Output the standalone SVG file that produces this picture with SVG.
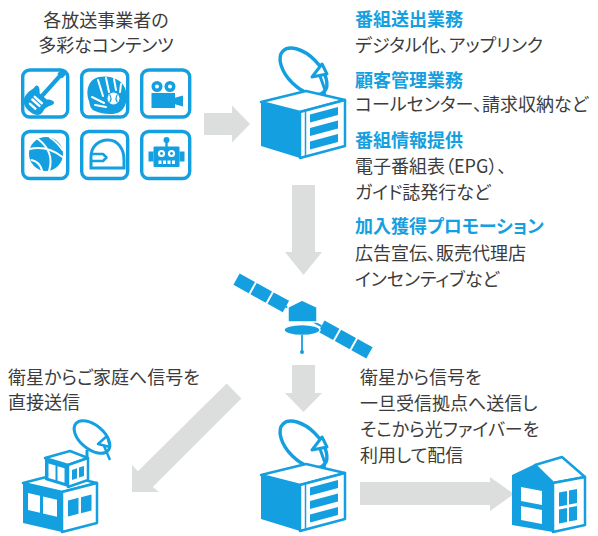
<svg xmlns="http://www.w3.org/2000/svg" xmlns:xlink="http://www.w3.org/1999/xlink" width="598" height="536" viewBox="0 0 598 536">
  <style>
    text { font-family: "Noto Sans CJK JP", "Noto Sans", sans-serif; font-size: 18px; fill: #3c3c3c; font-feature-settings: "palt"; }
    .hd { fill: #14a0e0; font-weight: 700; }
    .b { fill: #14a0e0; }
    .w { fill: #ffffff; }
    .ln { fill: #ffffff; stroke: #14a0e0; stroke-width: 2.5; stroke-linejoin: round; }
    .frame { fill: none; stroke: #14a0e0; stroke-width: 3.4; }
    .wl { fill: none; stroke: #ffffff; stroke-width: 2; stroke-linecap: round; }
    .arrow { fill: #dcdddd; }
  </style>
  <defs>
    <!-- data-centre block with a dish on top -->
    <g id="station">
      <ellipse cx="303.5" cy="71.5" rx="29" ry="16" transform="rotate(45 303.5 71.5)" fill="#fff" stroke="#14a0e0" stroke-width="3.4"/>
      <path d="M312,77 L322,64 L327,74 Z M320,76 L325,90" fill="#fff" stroke="#14a0e0" stroke-width="3" stroke-linejoin="round"/>
      <line x1="300" y1="92" x2="300" y2="106" stroke="#14a0e0" stroke-width="3.5"/>
      <line x1="324" y1="90" x2="325" y2="101" stroke="#14a0e0" stroke-width="3"/>
      <polygon class="ln" points="261,102 306,91 345,100 300,112"/>
      <polygon class="b" points="261,102 300,112 300,158 261,146"/>
      <polygon class="ln" points="300,112 345,100 345,146 300,158"/>
      <line x1="305.5" y1="111" x2="305.5" y2="156" stroke="#14a0e0" stroke-width="1.5"/>
      <polygon class="b" points="310,114.5 338,107 338,115 310,122.5"/>
      <polygon class="b" points="310,128 338,120.5 338,128.5 310,136"/>
      <polygon class="b" points="310,141.5 338,134 338,142 310,149.5"/>
    </g>
  </defs>

  <!-- connectors -->
  <g id="connectors">
    <polygon class="arrow" points="204,113 232,113 232,105.5 250,124 232,142.5 232,135 204,135"/>
    <polygon class="arrow" points="292,185 315,185 315,252 322,252 303.5,275 285,252 292,252"/>
    <polygon class="arrow" points="292,365 315,365 315,393 322,393 303.5,412 285,393 292,393"/>
    <polygon class="arrow" points="360,482 490,482 490,477 514,494 490,511 490,505 360,505"/>
    <polygon class="arrow" points="226.6,383.6 241.4,398.4 152.8,487 159,492 132,492 132,465 137.9,471.2"/>
  </g>

  <!-- broadcaster content -->
  <g id="contents">
    <text x="106" y="27" text-anchor="middle">各放送事業者の</text>
    <text x="106" y="52" text-anchor="middle">多彩なコンテンツ</text>
  </g>

  <g id="icon-guitar">
    <rect class="frame" x="22.7" y="70" width="45" height="47" rx="7"/>
    <g transform="translate(45.5,92) rotate(42) scale(1.2)">
      <rect class="b" x="-1.8" y="-20" width="3.6" height="26"/>
      <rect class="b" x="-2.8" y="-24" width="5.6" height="6.5" rx="1"/>
      <path class="b" d="M-3,4 C-6,0 -10,-1 -9.5,3 C-9,6 -11,8 -10.5,12 C-10.5,18 -6,21 0,21 C6,21 10.5,18.5 9.5,14 C8.5,10 9.5,8 11.5,4 C12.5,0 8,1 5,4 Z"/>
      <path class="wl" d="M-4,9 L4,9 M-4,12 L4,12 M-3,16 L3,16" stroke-width="1.3"/>
    </g>
  </g>

  <g id="icon-glove">
    <rect class="frame" x="81.7" y="70" width="46" height="47" rx="7"/>
    <path class="b" d="M89,101 C85,90 89,79 99,77 C110,75 121,79 125,88 C128,96 127,106 121,111 C115,116 102,114 95,111 C90,109 90,105 89,101 Z"/>
    <path class="wl" d="M98,80 L103,96 M106,78 L109,92 M114,79 L116,90 M121,84 L120,92 M92,97 L104,103 M95,105 L106,107" stroke-width="1.5"/>
    <circle cx="113.5" cy="98.5" r="6" fill="#fff"/>
    <path d="M109.5,94.5 Q112.5,98.5 109.5,102.5 M117.5,94.5 Q114.5,98.5 117.5,102.5" fill="none" stroke="#14a0e0" stroke-width="1.2"/>
  </g>

  <g id="icon-camera">
    <rect class="frame" x="141.7" y="70" width="48" height="47" rx="7"/>
    <circle class="b" cx="157" cy="86.5" r="5.5"/>
    <circle class="b" cx="170" cy="86.5" r="5.5"/>
    <circle class="w" cx="157" cy="86.5" r="2"/>
    <circle class="w" cx="170" cy="86.5" r="2"/>
    <rect class="b" x="151.5" y="93" width="23.5" height="15"/>
    <polygon class="b" points="174,98 183,95.5 183,106.5 174,104"/>
  </g>

  <g id="icon-ball">
    <rect class="frame" x="22.7" y="131.5" width="45" height="47" rx="7"/>
    <circle class="b" cx="46" cy="154" r="17"/>
    <path class="wl" d="M29.5,149 Q47,145 62.5,157 M38,139 Q55,152 49,171 M31.5,160 Q40,162 42,170.5 M50,137.5 Q57,142 62.5,150"/>
  </g>

  <g id="icon-helmet">
    <rect class="frame" x="81.7" y="131.5" width="46" height="47" rx="7"/>
    <path d="M91,168 L91,157 C91,146 99,140 108,140 C118,140 124,149 124,160 L124,168 Z" fill="#fff" stroke="#14a0e0" stroke-width="3"/>
    <path d="M91,154 L103,154 L106.5,157.5 L103,161 L91,161" fill="none" stroke="#14a0e0" stroke-width="2.5" stroke-linejoin="round"/>
  </g>

  <g id="icon-robot">
    <rect class="frame" x="141.7" y="131.5" width="48" height="47" rx="7"/>
    <circle class="b" cx="166.5" cy="140" r="3"/>
    <rect class="b" x="165.3" y="141" width="2.4" height="6"/>
    <rect class="b" x="153.5" y="146.5" width="26" height="20.5" rx="1"/>
    <rect class="b" x="148.5" y="151.5" width="5" height="10"/>
    <rect class="b" x="179.5" y="151.5" width="5" height="10"/>
    <circle class="w" cx="161.5" cy="153.5" r="3.6"/>
    <circle class="w" cx="171.5" cy="153.5" r="3.6"/>
    <circle class="b" cx="161.5" cy="153.5" r="1.4"/>
    <circle class="b" cx="171.5" cy="153.5" r="1.4"/>
    <rect class="w" x="158.5" y="160.5" width="3" height="3.5"/>
    <rect class="w" x="163" y="160.5" width="3" height="3.5"/>
    <rect class="w" x="167.5" y="160.5" width="3" height="3.5"/>
    <rect class="w" x="172" y="160.5" width="3" height="3.5"/>
  </g>

  <!-- uplink station -->
  <g id="uplink-station">
    <use xlink:href="#station"/>
  </g>

  <!-- services -->
  <g id="services">
    <text class="hd" x="355" y="26">番組送出業務</text>
    <text x="355" y="52">デジタル化、アップリンク</text>
    <text class="hd" x="355" y="87">顧客管理業務</text>
    <text x="355" y="111">コールセンター、請求収納など</text>
    <text class="hd" x="355" y="147">番組情報提供</text>
    <text x="355" y="173">電子番組表（EPG）、</text>
    <text x="355" y="199">ガイド誌発行など</text>
    <text class="hd" x="355" y="233">加入獲得プロモーション</text>
    <text x="355" y="260">広告宣伝、販売代理店</text>
    <text x="355" y="286">インセンティブなど</text>
  </g>

  <!-- satellite -->
  <g id="satellite">
    <g transform="translate(303,316) rotate(29)">
      <rect class="b" x="-76" y="-6.5" width="17.5" height="13"/>
      <rect class="b" x="-56.5" y="-6.5" width="17.5" height="13"/>
      <rect class="b" x="-37" y="-6.5" width="17.5" height="13"/>
      <rect class="b" x="21" y="-6.5" width="17" height="13"/>
      <rect class="b" x="40" y="-6.5" width="17" height="13"/>
      <rect class="b" x="59" y="-6.5" width="17" height="13"/>
      <rect class="b" x="-20" y="-1" width="41" height="2"/>
    </g>
    <polygon class="b" points="288,307 302,300 317,307 317,322 288,322" stroke="#fff" stroke-width="1.5"/>
    <ellipse class="b" cx="302" cy="330" rx="18" ry="5.5" stroke="#fff" stroke-width="1.5"/>
    <line x1="302" y1="335" x2="302" y2="351" stroke="#14a0e0" stroke-width="1.8"/>
    <circle class="b" cx="302" cy="352" r="2"/>
  </g>

  <!-- direct reception -->
  <g id="direct-text">
    <text x="8" y="384">衛星からご家庭へ信号を</text>
    <text x="8" y="409">直接送信</text>
  </g>

  <g id="home">
    <ellipse cx="92" cy="437" rx="21" ry="12" transform="rotate(40 92 437)" fill="#fff" stroke="#14a0e0" stroke-width="3"/>
    <path d="M98,444 L107,436 L110,447 Z M104,446 L110,460" fill="#fff" stroke="#14a0e0" stroke-width="2.5" stroke-linejoin="round"/>
    <line x1="87" y1="450" x2="87" y2="460" stroke="#14a0e0" stroke-width="3"/>
    <polygon class="ln" points="23,483 58,474 97,483 62,492"/>
    <polygon class="b" points="23,483 62,492 62,532 23,523"/>
    <polygon class="w" points="28,493 40,495.8 40,512.8 28,510"/>
    <polygon class="w" points="43,496.5 57,499.7 57,516.7 43,513.5"/>
    <polygon class="ln" points="62,492 97,483 97,523 62,532"/>
    <polygon class="b" points="68,500.5 78.5,497.8 78.5,513.8 68,516.5"/>
    <polygon class="b" points="81,497.2 91.5,494.5 91.5,510.5 81,513.2"/>
    <polygon class="ln" points="45,458 70,451 88,458 68,465"/>
    <polygon class="b" points="45,458 68,465 68,487 45,480"/>
    <polygon class="w" points="48.5,463.5 55.5,465.6 55.5,480 48.5,477.9"/>
    <polygon class="w" points="57.5,466.2 64.5,468.3 64.5,482.7 57.5,480.6"/>
    <polygon class="ln" points="68,465 88,458 88,480 68,487"/>
    <polygon class="b" points="72,470 77,468.3 77,478.3 72,480"/>
    <polygon class="b" points="79,467.6 84,465.9 84,475.9 79,477.6"/>
  </g>

  <!-- relay station and fibre delivery -->
  <g id="relay-station">
    <use xlink:href="#station" y="373"/>
  </g>

  <g id="relay-text">
    <text x="360" y="384">衛星から信号を</text>
    <text x="360" y="410">一旦受信拠点へ送信し</text>
    <text x="360" y="436">そこから光ファイバーを</text>
    <text x="360" y="462">利用して配信</text>
  </g>

  <g id="fibre-home">
    <polygon class="ln" points="535,465 562,457 585,477 553,483"/>
    <polygon class="b" points="512,475 535,464 553,481 553,532 512,525"/>
    <polygon class="w" points="521,487 542,491 542,505 521,501"/>
    <polygon class="w" points="521,506 542,510 542,524 521,520"/>
    <polygon class="ln" points="553,483 585,477 585,525 553,532"/>
    <polygon class="b" points="559,492.5 567,491 567,505 559,506.5"/>
    <polygon class="b" points="569,490.6 577,489.1 577,503.1 569,504.6"/>
    <polygon class="b" points="559,509.5 567,508 567,522 559,523.5"/>
    <polygon class="b" points="569,507.6 577,506.1 577,520.1 569,521.6"/>
  </g>
</svg>
